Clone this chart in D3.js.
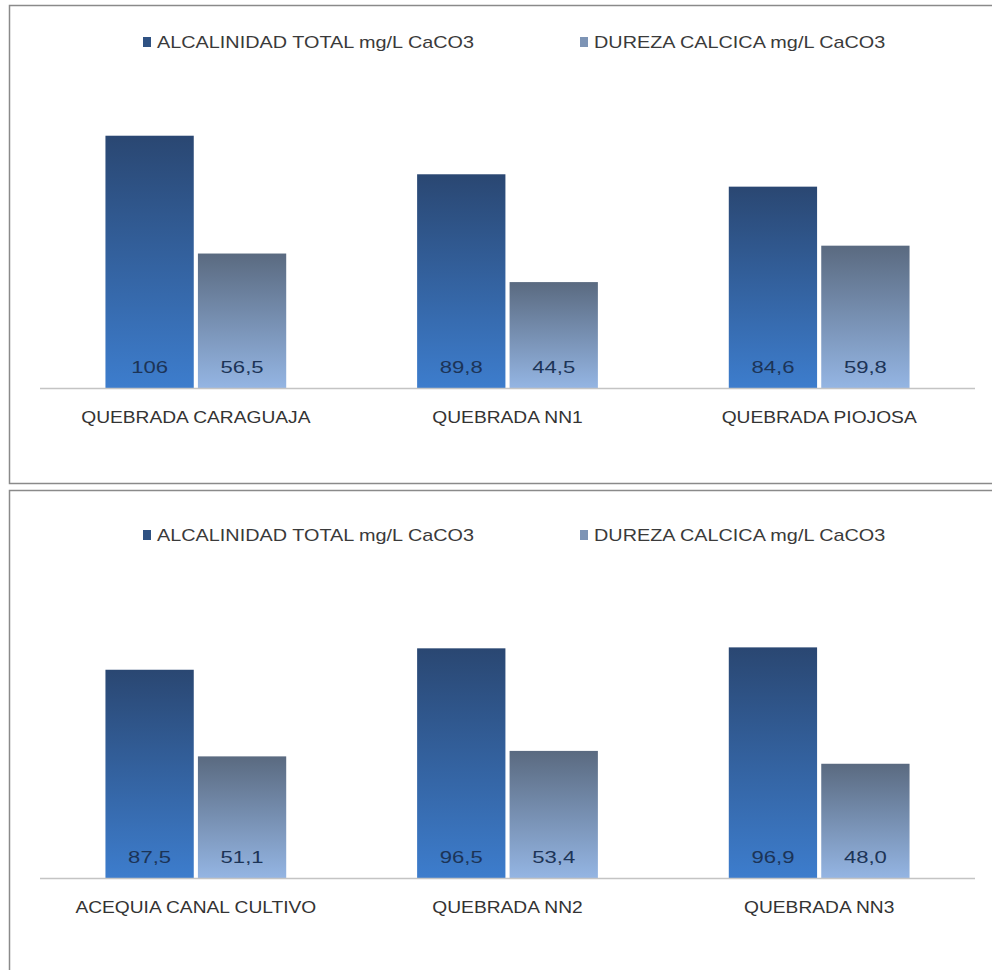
<!DOCTYPE html>
<html>
<head>
<meta charset="utf-8">
<script src="https://cdn.jsdelivr.net/npm/d3@7"></script>
<style>
  html, body { margin: 0; padding: 0; background: #fff; }
  svg { display: block; }
  text { font-family: "Liberation Sans", Arial, sans-serif; }
</style>
</head>
<body>
<svg id="chart" width="992" height="970"></svg>
<script>
// ---- Data ----
const seriesNames = ["ALCALINIDAD TOTAL mg/L CaCO3", "DUREZA CALCICA mg/L CaCO3"];

const categoriesTop = ["QUEBRADA CARAGUAJA", "QUEBRADA NN1", "QUEBRADA PIOJOSA"];
const alcalinidadTop = [106, 89.8, 84.6];
const durezaTop = [56.5, 44.5, 59.8];
const alcalinidadTopLabels = ["106", "89,8", "84,6"];
const durezaTopLabels = ["56,5", "44,5", "59,8"];

const categoriesBottom = ["ACEQUIA CANAL CULTIVO", "QUEBRADA NN2", "QUEBRADA NN3"];
const alcalinidadBottom = [87.5, 96.5, 96.9];
const durezaBottom = [51.1, 53.4, 48.0];
const alcalinidadBottomLabels = ["87,5", "96,5", "96,9"];
const durezaBottomLabels = ["51,1", "53,4", "48,0"];

const yDomain = [0, 120];

// ---- Drawing ----
const svg = d3.select("#chart");
const defs = svg.append("defs");

function grad(id, top, bottom) {
  const g = defs.append("linearGradient").attr("id", id)
    .attr("x1", 0).attr("y1", 0).attr("x2", 0).attr("y2", 1);
  g.append("stop").attr("offset", "0%").attr("stop-color", top);
  g.append("stop").attr("offset", "100%").attr("stop-color", bottom);
}
grad("gDark", "#2a4772", "#3d7dcd");
grad("gLight", "#5a6a80", "#94b5e3");
const fills = ["url(#gDark)", "url(#gLight)"];
const legendColors = ["#2f5283", "#7d94b5"];

function stretchedText(g, x, y, str, size, color, anchor, sx) {
  return g.append("text")
    .attr("transform", `translate(${x},${y}) scale(${sx},1)`)
    .attr("text-anchor", anchor || "middle")
    .attr("dominant-baseline", "central")
    .attr("font-size", size)
    .attr("fill", color)
    .text(str);
}

function drawPanel(panelTop, panelHeight, baseOff, legendOff, cats, a, d, aLab, dLab) {
  const g = svg.append("g");
  g.append("rect")
    .attr("x", 9.5).attr("y", panelTop + 0.5)
    .attr("width", 1000).attr("height", panelHeight)
    .attr("fill", "#fff").attr("stroke", "#8a8a8a").attr("stroke-width", 1.5);

  const baseline = panelTop + baseOff;
  const y = d3.scaleLinear().domain(yDomain).range([baseline, baseline - 285.6]);
  const x0 = d3.scaleBand().domain(cats).range([40, 975]).paddingInner(0.42).paddingOuter(0.21);
  const x1 = d3.scaleBand().domain(seriesNames).range([0, x0.bandwidth()]).paddingInner(0.045);

  // legend
  const legendX = [143, 580];
  seriesNames.forEach((s, i) => {
    g.append("rect").attr("x", legendX[i]).attr("y", panelTop + legendOff - 6)
      .attr("width", 8).attr("height", 10).attr("fill", legendColors[i]);
    stretchedText(g, legendX[i] + 14, panelTop + legendOff, s, 16, "#3a3a3a", "start", 1.24);
  });

  const rows = cats.map((c, i) => ({ c, vals: [a[i], d[i]], labs: [aLab[i], dLab[i]] }));
  const grp = g.selectAll("g.cat").data(rows).join("g")
    .attr("class", "cat")
    .attr("transform", r => `translate(${x0(r.c)},0)`);

  grp.selectAll("rect.bar")
    .data(r => r.vals.map((v, k) => ({ s: seriesNames[k], v, k })))
    .join("rect")
    .attr("class", "bar")
    .attr("x", e => x1(e.s))
    .attr("width", x1.bandwidth())
    .attr("y", e => y(e.v))
    .attr("height", e => baseline - y(e.v))
    .attr("fill", e => fills[e.k]);

  grp.each(function (r) {
    const gg = d3.select(this);
    r.vals.forEach((v, k) => {
      stretchedText(gg, x1(seriesNames[k]) + x1.bandwidth() / 2, baseline - 21, r.labs[k], 17, "#1c3457", "middle", 1.3);
    });
  });

  g.append("line").attr("x1", 40).attr("x2", 975)
    .attr("y1", baseline + 0.5).attr("y2", baseline + 0.5)
    .attr("stroke", "#c4c4c4").attr("stroke-width", 1.5);

  cats.forEach(c => {
    stretchedText(g, x0(c) + x0.bandwidth() / 2, baseline + 30, c, 16, "#333", "middle", 1.2);
  });
}

drawPanel(5, 478, 383, 38, categoriesTop, alcalinidadTop, durezaTop, alcalinidadTopLabels, durezaTopLabels);
drawPanel(490, 600, 388, 46, categoriesBottom, alcalinidadBottom, durezaBottom, alcalinidadBottomLabels, durezaBottomLabels);
</script>
</body>
</html>
